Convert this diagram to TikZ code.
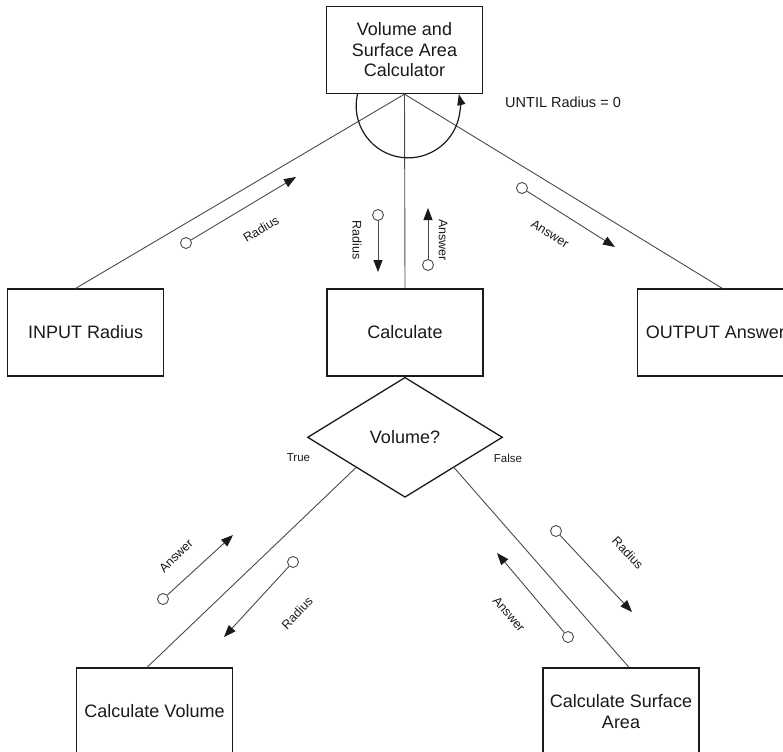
\documentclass[tikz,border=0pt]{standalone}
\usepackage{fontspec}
\setmainfont{Liberation Sans}
\usepackage{tikz}
\usetikzlibrary{arrows.meta,positioning,calc,shapes.geometric}
\definecolor{ink}{HTML}{1A1A1A}
\definecolor{wire}{HTML}{4A4A4A}
\tikzset{
  box/.style={
    draw=ink,fill=white,line width=1.3pt,
    minimum width=156pt,minimum height=87pt,inner sep=2pt,
    align=center,text=ink,font=\fontsize{18}{20.5}\selectfont
  },
  decision/.style={
    diamond,draw=ink,fill=white,line width=1.3pt,
    minimum width=195pt,minimum height=120pt,inner sep=0pt,
    text=ink,font=\fontsize{18}{20.5}\selectfont
  },
  flow/.style={draw=wire,line width=.9pt},
  couple/.style={-{Triangle[length=12pt,width=9pt,color=ink]},draw=wire,line width=.9pt},
  dot/.style={circle,draw=wire,fill=white,line width=.9pt,minimum size=11pt,inner sep=0pt},
  tag/.style={text=ink,inner sep=0pt,font=\fontsize{12.5}{14}\selectfont},
  cond/.style={text=ink,inner sep=0pt,font=\fontsize{11.5}{13}\selectfont}
}
\begin{document}
\begin{tikzpicture}[x=1pt,y=1pt]
\path[use as bounding box,clip] (0,0) rectangle (783,-751);

\node[box] (top) at (404.5,-50) {Volume and\\Surface Area\\Calculator};
\node[box] (calc) at (405,-332.5) {Calculate};
\node[box,left=162pt of calc] (in) {INPUT Radius};
\node[box,right=153pt of calc] (out) {OUTPUT Answer};
\node[decision,below=0pt of calc] (dec) {Volume?};
\node[box] (cv) at (154.5,-711.5) {Calculate Volume};
\node[box] (csa) at (621,-711.5) {Calculate Surface\\Area};

\node[text=ink,anchor=west,inner sep=0pt,font=\fontsize{14.5}{16}\selectfont]
  (until) at (505,-102) {UNTIL Radius = 0};
\node[cond] (t) at (298.5,-458) {True};
\node[cond] (f) at (508,-458) {False};

% structure lines
\draw[flow] (top.south) -- ([xshift=-10pt]in.north);
\draw[flow] (top.south) -- (calc.north);
\draw[flow] (top.south) -- ([xshift=7pt]out.north);
\draw[flow] ($(dec.west)!.5!(dec.south)$) -- ([xshift=-7.5pt]cv.north);
\draw[flow] ($(dec.east)!.5!(dec.south)$) -- ([xshift=8pt]csa.north);

% iteration
\draw[ink,line width=1.2pt,-{Triangle[length=11pt,width=8pt]}]
  ([xshift=-47pt]top.south) arc[start angle=167,end angle=373,radius=52];

% data couples
\node[dot] (r1) at (186,-243) {};
\coordinate (r1e) at (296,-177);
\draw[couple] (r1) -- (r1e);
\node[tag,rotate=31] at (261,-229) {Radius};

\node[dot] (r2) at (378,-215) {};
\coordinate (r2e) at (378,-272);
\draw[couple] (r2) -- (r2e);
\node[tag,rotate=-90] at (357,-240) {Radius};

\node[dot] (a2) at (428,-265) {};
\coordinate (a2e) at (428,-208);
\draw[couple] (a2) -- (a2e);
\node[tag,rotate=-90] at (443,-240) {Answer};

\node[dot] (a3) at (522,-188) {};
\coordinate (a3e) at (615,-247);
\draw[couple] (a3) -- (a3e);
\node[tag,rotate=-32] at (550,-234) {Answer};

\node[dot] (a4) at (163,-599) {};
\coordinate (a4e) at (233,-535);
\draw[couple] (a4) -- (a4e);
\node[tag,rotate=45] at (176,-556) {Answer};

\node[dot] (r4) at (293,-562) {};
\coordinate (r4e) at (224,-637);
\draw[couple] (r4) -- (r4e);
\node[tag,rotate=47] at (297,-613) {Radius};

\node[dot] (r5) at (556,-531) {};
\coordinate (r5e) at (632,-612);
\draw[couple] (r5) -- (r5e);
\node[tag,rotate=-47] at (628,-553) {Radius};

\node[dot] (a5) at (568,-637) {};
\coordinate (a5e) at (497,-553);
\draw[couple] (a5) -- (a5e);
\node[tag,rotate=-49] at (509,-614) {Answer};
\end{tikzpicture}
\end{document}
